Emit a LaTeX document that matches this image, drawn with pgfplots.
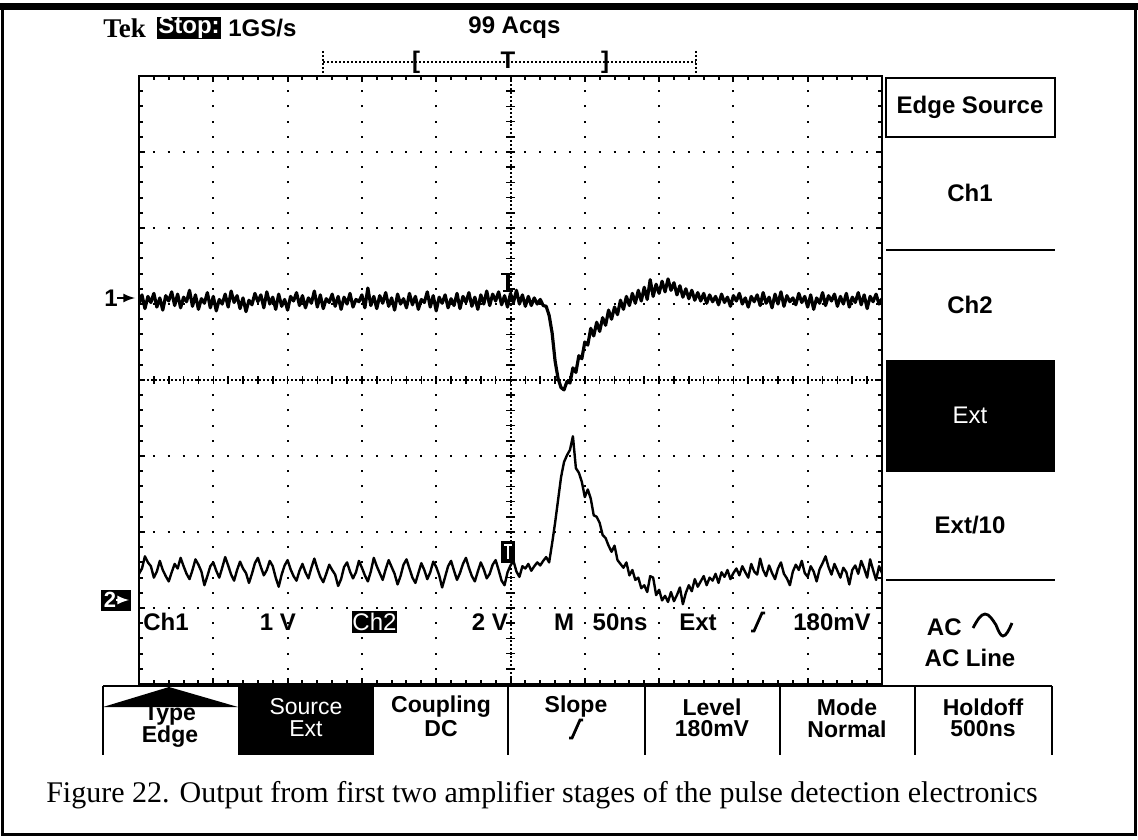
\documentclass[border=0pt]{standalone}
\usepackage{graphicx}
\usepackage{pgfplots}
\pgfplotsset{compat=1.18}
\usepackage{fontspec}
\setmainfont{Liberation Serif}
\newfontfamily\tek{Liberation Sans}
\begin{document}
\begin{tikzpicture}
\path (0,0) rectangle (569pt,-419.5pt);
\begin{axis}[
 at={(69.5pt,-342pt)}, anchor=south west,
 scale only axis, width=371.5pt, height=304pt,
 xmin=0, xmax=10, ymin=0, ymax=8,
 xtick={0,1,...,10}, ytick={0,1,...,8},
 minor x tick num=4, minor y tick num=4,
 xticklabels={}, yticklabels={},
 tick align=inside, xtick pos=both, ytick pos=both,
 major tick length=3pt, minor tick length=2pt,
 every tick/.style={black, line width=1pt},
 axis line style={line width=1.3pt},
 grid=major,
 x grid style={black, line width=1pt, dash pattern=on 1pt off 6.6pt, dash phase=0.5pt},
 y grid style={black, line width=1pt, dash pattern=on 1pt off 6.43pt, dash phase=0.5pt},
]
% Channel 1
\addplot[black, line width=1.6pt, line join=round] table[row sep=\\, header=false, x expr=\coordindex*0.04, y index=0] {
5.00\\ 5.12\\ 4.94\\ 5.10\\ 5.02\\ 5.14\\ 4.96\\ 5.08\\ 4.92\\ 5.11\\
5.04\\ 5.16\\ 4.98\\ 5.13\\ 4.95\\ 5.09\\ 5.03\\ 5.18\\ 4.97\\ 5.12\\
4.93\\ 5.07\\ 5.01\\ 5.15\\ 4.95\\ 5.10\\ 4.91\\ 5.06\\ 5.00\\ 5.13\\
4.96\\ 5.17\\ 5.02\\ 5.11\\ 4.94\\ 5.08\\ 4.90\\ 5.05\\ 4.99\\ 5.14\\
5.03\\ 5.12\\ 4.95\\ 5.16\\ 5.00\\ 5.09\\ 4.93\\ 5.13\\ 4.97\\ 5.06\\
4.92\\ 5.10\\ 5.04\\ 5.15\\ 4.98\\ 5.11\\ 4.95\\ 5.08\\ 5.01\\ 5.17\\
4.96\\ 5.12\\ 4.94\\ 5.07\\ 5.02\\ 5.13\\ 4.97\\ 5.10\\ 4.93\\ 5.09\\
5.00\\ 5.14\\ 4.96\\ 5.06\\ 5.03\\ 5.12\\ 4.95\\ 5.21\\ 4.98\\ 5.10\\
4.94\\ 5.11\\ 5.01\\ 5.15\\ 4.97\\ 5.08\\ 4.92\\ 5.13\\ 5.00\\ 5.07\\
4.95\\ 5.14\\ 4.99\\ 5.10\\ 4.93\\ 5.06\\ 5.02\\ 5.16\\ 4.96\\ 5.11\\
4.91\\ 5.09\\ 5.01\\ 5.12\\ 4.95\\ 5.07\\ 4.98\\ 5.14\\ 4.94\\ 5.10\\
5.02\\ 5.15\\ 4.97\\ 5.09\\ 4.93\\ 5.12\\ 5.00\\ 5.17\\ 4.98\\ 5.13\\
5.04\\ 5.16\\ 4.99\\ 5.11\\ 4.96\\ 5.14\\ 5.02\\ 5.18\\ 5.00\\ 5.12\\
4.97\\ 5.10\\ 4.98\\ 5.08\\ 5.00\\ 5.06\\ 4.98\\ 4.97\\ 4.85\\ 4.62\\
4.25\\ 4.02\\ 3.90\\ 3.87\\ 3.98\\ 3.96\\ 4.16\\ 4.10\\ 4.32\\ 4.28\\
4.50\\ 4.46\\ 4.68\\ 4.58\\ 4.76\\ 4.64\\ 4.82\\ 4.72\\ 4.92\\ 4.80\\
4.96\\ 4.86\\ 5.05\\ 4.93\\ 5.10\\ 4.98\\ 5.14\\ 5.01\\ 5.18\\ 5.04\\
5.22\\ 5.06\\ 5.32\\ 5.10\\ 5.26\\ 5.14\\ 5.30\\ 5.16\\ 5.33\\ 5.18\\
5.28\\ 5.12\\ 5.24\\ 5.09\\ 5.20\\ 5.07\\ 5.18\\ 5.05\\ 5.15\\ 5.04\\
5.14\\ 5.01\\ 5.12\\ 5.03\\ 5.10\\ 4.99\\ 5.13\\ 5.02\\ 5.09\\ 4.97\\
5.11\\ 5.04\\ 5.14\\ 5.00\\ 5.08\\ 4.96\\ 5.10\\ 5.03\\ 5.12\\ 4.98\\
5.15\\ 5.01\\ 5.09\\ 4.95\\ 5.13\\ 5.00\\ 5.16\\ 4.97\\ 5.11\\ 5.03\\
5.08\\ 4.99\\ 5.14\\ 5.02\\ 5.10\\ 4.96\\ 5.12\\ 4.93\\ 5.08\\ 5.01\\
5.15\\ 4.98\\ 5.11\\ 5.04\\ 5.13\\ 4.97\\ 5.10\\ 5.00\\ 5.14\\ 4.96\\
5.09\\ 5.02\\ 5.15\\ 4.99\\ 5.12\\ 4.94\\ 5.10\\ 5.03\\ 5.13\\ 5.00\\
5.07\\
};
% Channel 2
\addplot[black, line width=1.2pt, line join=round] table[row sep=\\, header=false, x expr=\coordindex*0.04, y index=0] {
1.45\\ 1.52\\ 1.68\\ 1.60\\ 1.55\\ 1.40\\ 1.48\\ 1.62\\ 1.50\\ 1.42\\
1.35\\ 1.47\\ 1.58\\ 1.52\\ 1.66\\ 1.55\\ 1.45\\ 1.38\\ 1.50\\ 1.64\\
1.57\\ 1.48\\ 1.30\\ 1.42\\ 1.55\\ 1.60\\ 1.49\\ 1.40\\ 1.53\\ 1.67\\
1.56\\ 1.44\\ 1.36\\ 1.50\\ 1.61\\ 1.52\\ 1.46\\ 1.33\\ 1.45\\ 1.59\\
1.66\\ 1.54\\ 1.43\\ 1.50\\ 1.62\\ 1.55\\ 1.40\\ 1.28\\ 1.44\\ 1.56\\
1.63\\ 1.51\\ 1.42\\ 1.36\\ 1.49\\ 1.58\\ 1.47\\ 1.39\\ 1.53\\ 1.65\\
1.52\\ 1.41\\ 1.34\\ 1.45\\ 1.57\\ 1.50\\ 1.44\\ 1.29\\ 1.38\\ 1.54\\
1.60\\ 1.48\\ 1.39\\ 1.47\\ 1.62\\ 1.53\\ 1.43\\ 1.35\\ 1.48\\ 1.66\\
1.55\\ 1.46\\ 1.37\\ 1.51\\ 1.63\\ 1.54\\ 1.45\\ 1.31\\ 1.42\\ 1.57\\
1.64\\ 1.52\\ 1.40\\ 1.33\\ 1.46\\ 1.59\\ 1.50\\ 1.38\\ 1.47\\ 1.61\\
1.54\\ 1.43\\ 1.27\\ 1.41\\ 1.55\\ 1.62\\ 1.49\\ 1.37\\ 1.46\\ 1.58\\
1.66\\ 1.53\\ 1.42\\ 1.35\\ 1.48\\ 1.60\\ 1.51\\ 1.39\\ 1.45\\ 1.57\\
1.63\\ 1.50\\ 1.36\\ 1.30\\ 1.47\\ 1.56\\ 1.62\\ 1.48\\ 1.41\\ 1.55\\
1.52\\ 1.58\\ 1.49\\ 1.55\\ 1.60\\ 1.56\\ 1.62\\ 1.67\\ 1.60\\ 1.85\\
2.12\\ 2.42\\ 2.72\\ 2.92\\ 3.01\\ 3.08\\ 3.26\\ 2.84\\ 2.78\\ 2.66\\
2.46\\ 2.56\\ 2.44\\ 2.22\\ 2.20\\ 2.12\\ 1.96\\ 1.92\\ 1.82\\ 1.74\\
1.82\\ 1.63\\ 1.58\\ 1.53\\ 1.60\\ 1.43\\ 1.50\\ 1.37\\ 1.40\\ 1.26\\
1.30\\ 1.21\\ 1.42\\ 1.40\\ 1.17\\ 1.24\\ 1.10\\ 1.16\\ 1.08\\ 1.21\\
1.09\\ 1.17\\ 1.27\\ 1.05\\ 1.20\\ 1.30\\ 1.22\\ 1.38\\ 1.28\\ 1.35\\
1.42\\ 1.30\\ 1.40\\ 1.36\\ 1.45\\ 1.33\\ 1.47\\ 1.41\\ 1.50\\ 1.38\\
1.46\\ 1.52\\ 1.43\\ 1.55\\ 1.47\\ 1.40\\ 1.58\\ 1.48\\ 1.44\\ 1.65\\
1.50\\ 1.42\\ 1.56\\ 1.46\\ 1.38\\ 1.52\\ 1.60\\ 1.45\\ 1.39\\ 1.30\\
1.48\\ 1.57\\ 1.50\\ 1.62\\ 1.46\\ 1.41\\ 1.55\\ 1.48\\ 1.35\\ 1.51\\
1.59\\ 1.68\\ 1.54\\ 1.44\\ 1.58\\ 1.49\\ 1.40\\ 1.53\\ 1.47\\ 1.31\\
1.50\\ 1.56\\ 1.45\\ 1.62\\ 1.52\\ 1.40\\ 1.64\\ 1.50\\ 1.37\\ 1.55\\
1.46\\
};
\end{axis}
\begin{scope}[x=0.5pt,y=-0.5pt,
  tk/.style={font=\tek\bfseries\fontsize{12}{13}\selectfont, inner sep=0pt},
  tkw/.style={font=\tek\fontsize{12}{13}\selectfont, inner sep=0pt, text=white},
  tkm/.style={font=\tek\bfseries\fontsize{11.5}{12}\selectfont, inner sep=0pt},
  tkmw/.style={font=\tek\fontsize{11.5}{12}\selectfont, inner sep=0pt, text=white}]
% outer frame
\fill (0,3) rectangle (1138,10);
\draw[line width=1.5pt] (2,10)--(2,834)--(1135,834)--(1135,10);
% centre lines of the graticule
\draw[line width=1pt, densely dotted] (510.5,76)--(510.5,684);
\draw[line width=1pt, densely dotted] (139,380)--(882,380);
\foreach \k in {1,...,39} \draw[line width=0.8pt] (506,{76+15.2*\k})--(515,{76+15.2*\k});
\foreach \k in {1,...,49} \draw[line width=0.8pt] ({139+14.86*\k},376)--({139+14.86*\k},384);
% header
\node[anchor=west, inner sep=0pt, font=\bfseries\fontsize{13.5}{14}\selectfont] at (103,28) {Tek};
\fill (157,17) rectangle (221,39);
\node[tkw, font=\tek\bfseries\fontsize{12}{13}\selectfont] at (189,28) {Stop:};
\node[tk, anchor=west] at (228,28) {1GS/s};
\node[tk, anchor=west] at (468,28) {99 Acqs};
\draw[line width=1pt, densely dotted] (323,62)--(696,62);
\draw[line width=1pt, densely dotted] (323,51)--(323,73);
\draw[line width=1pt, densely dotted] (696,51)--(696,73);
\node[tk] at (416,62) {[};
\node[tk] at (508,60) {T};
\node[tk] at (605,62) {]};
% ground markers
\node[tk] at (111,298) {1};
\draw[line width=1pt, -latex] (117,298)--(135,298);
\fill (101,590) rectangle (131,611);
\node[tkw, font=\tek\bfseries\fontsize{11}{12}\selectfont] at (110,600) {2};
\draw[line width=1pt, white, -latex] (116,600)--(129,600);
% trigger markers
\draw[line width=1.2pt] (501,274)--(515,274);
\draw[line width=2pt] (508,274)--(508,291);
\draw[line width=1.2pt] (503,291)--(513,291);
\fill (501,541) rectangle (515,563);
\draw[white, line width=1pt] (504,545)--(512,545);
\draw[white, line width=1.2pt] (508,545)--(508,559);
% readout line
\node[tk] at (166,622) {Ch1};
\node[tk] at (278,622) {1 V};
\fill (352,611) rectangle (397,633);
\node[tkw] at (374.5,622) {Ch2};
\node[tk] at (490,622) {2 V};
\node[tk] at (564,622) {M};
\node[tk] at (620,622) {50ns};
\node[tk] at (698,622) {Ext};
\draw[line width=1.4pt] (751,631)--(754,631)--(762,613)--(765,613);
\node[tk] at (832,622) {180mV};
% right-hand menu
\draw[line width=1pt] (886,78) rectangle (1055,137);
\node[tk] at (970,107) {Edge Source};
\node[tk] at (970,193) {Ch1};
\draw[line width=1.3pt] (886,250)--(1055,250);
\node[tk] at (970,305) {Ch2};
\fill (886,360) rectangle (1055,472);
\node[tkw] at (970,415) {Ext};
\node[tk] at (970,525) {Ext/10};
\draw[line width=1.3pt] (886,580)--(1055,580);
\node[tk, anchor=east] at (962,627) {AC};
\draw[line width=1.4pt] (973,628) sin (985,614) cos (996,625) sin (1003,636) cos (1012,623);
\node[tk] at (970,658) {AC Line};
% bottom menu
\draw[line width=1.3pt] (103,686)--(1052,686);
\fill (238,686) rectangle (374,755);
\foreach \xx in {103,508,645,780,915,1052} \draw[line width=1pt] (\xx,686)--(\xx,755);
\fill (103,707)--(169,687)--(238,707)--cycle;
\node[tkm] at (170,715) {Type};
\node[tkm] at (170,737) {Edge};
\node[tkmw] at (306,707) {Source};
\node[tkmw] at (306,729) {Ext};
\node[tkm] at (441,707) {Coupling};
\node[tkm] at (441,729) {DC};
\node[tkm] at (576,707) {Slope};
\draw[line width=1.4pt] (569,738)--(572,738)--(580,720)--(583,720);
\node[tkm] at (712,707) {Level};
\node[tkm] at (712,729) {180mV};
\node[tkm] at (847,707) {Mode};
\node[tkm] at (847,729) {Normal};
\node[tkm] at (983,707) {Holdoff};
\node[tkm] at (983,729) {500ns};
% caption
\node[inner sep=0pt, font=\fontsize{15}{17}\selectfont] at (542,795) {Figure 22. Output from first two amplifier stages of the pulse detection electronics};
\end{scope}
\end{tikzpicture}
\end{document}
